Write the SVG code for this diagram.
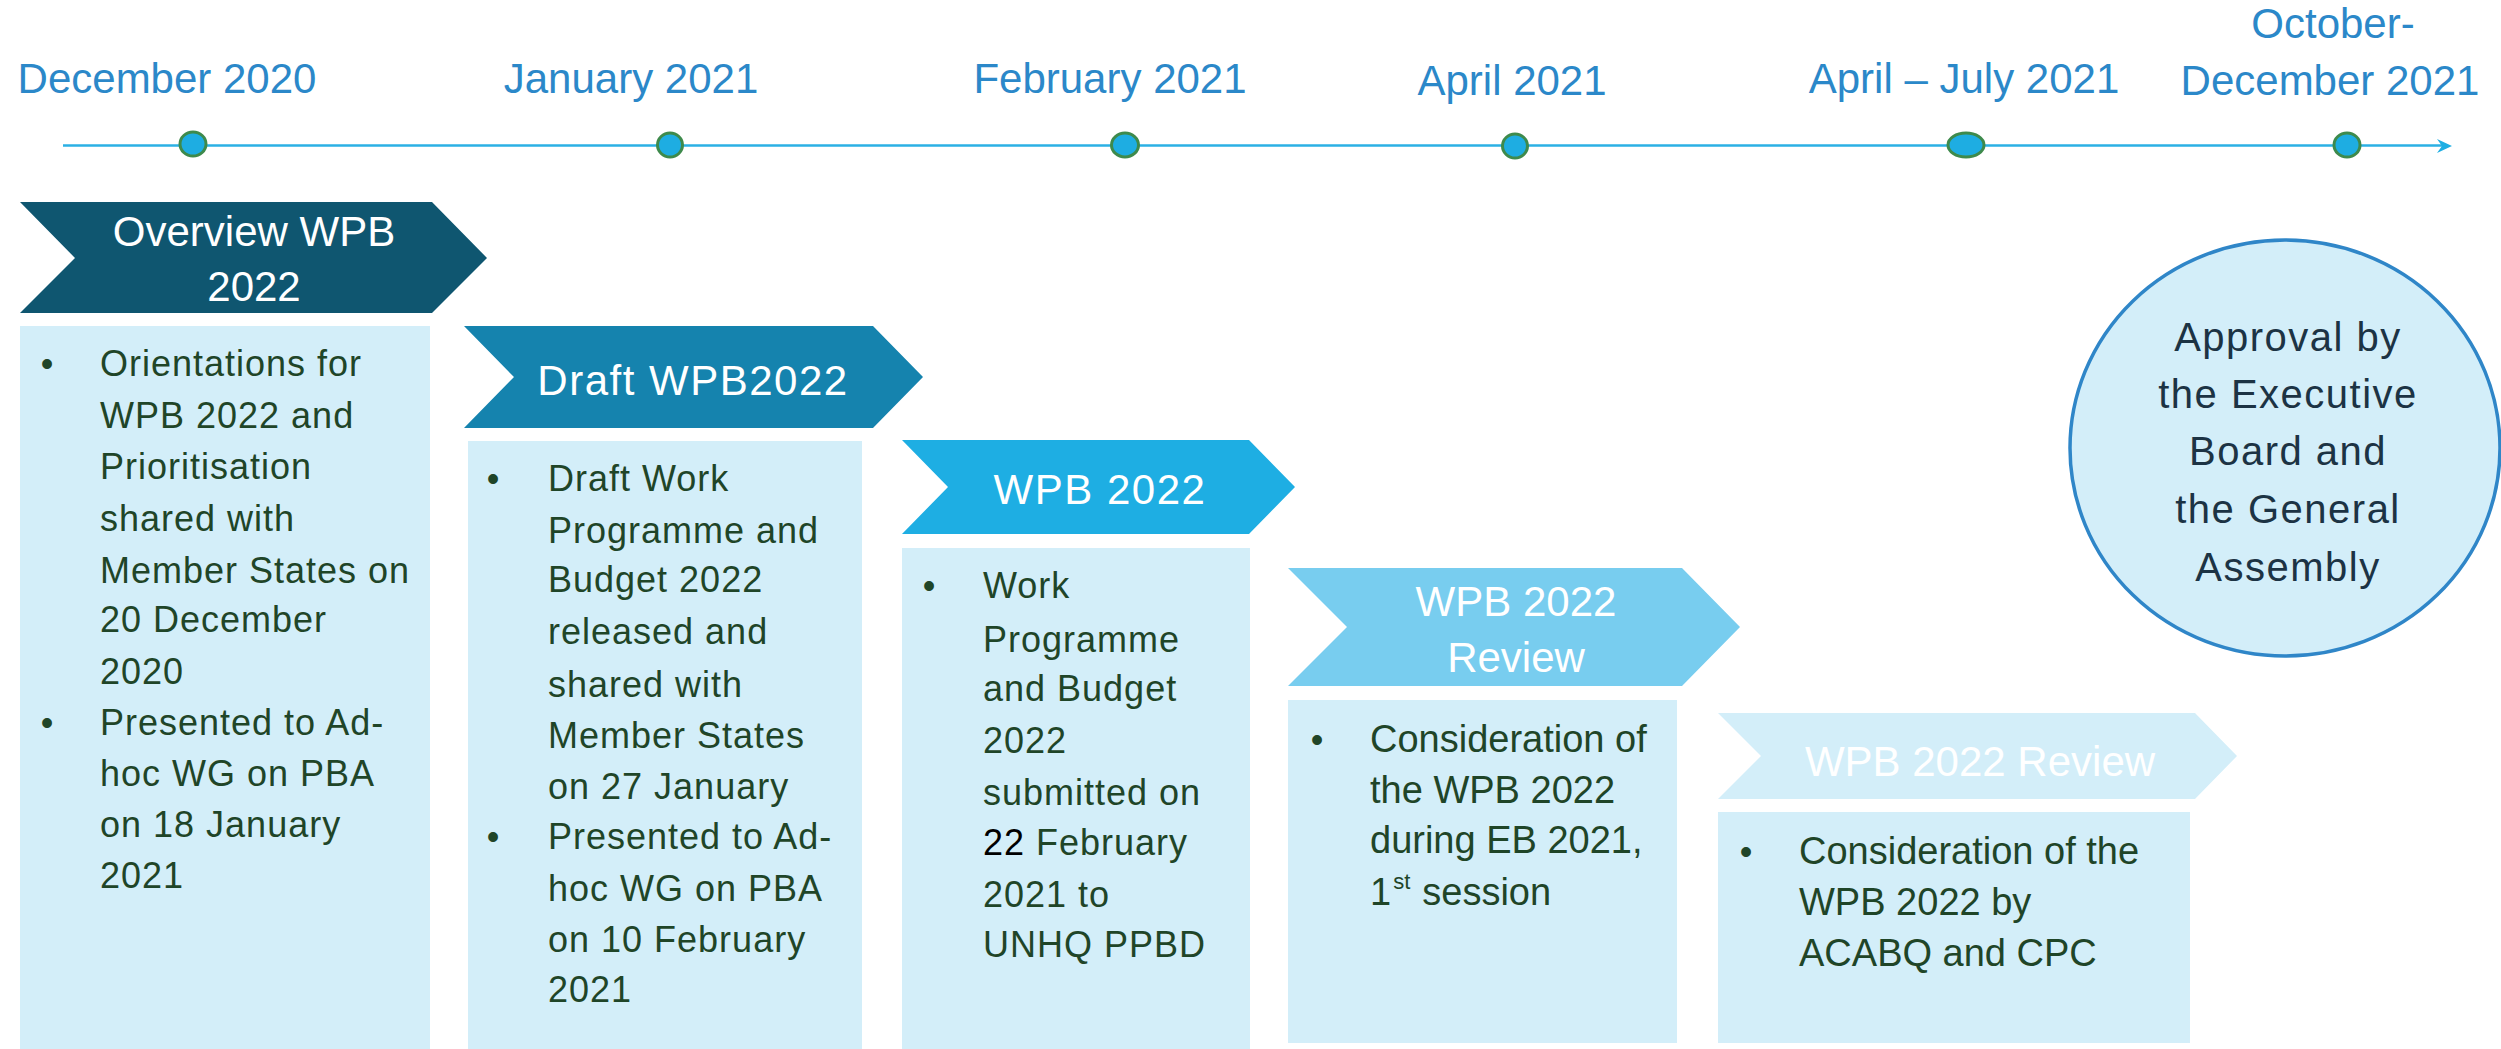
<svg xmlns="http://www.w3.org/2000/svg" width="2501" height="1049" viewBox="0 0 2501 1049">
<style>
.date{font-family:"Liberation Sans",Arial,sans-serif;font-size:42px;fill:#2b88c9;text-anchor:middle}
.ch{font-family:"Liberation Sans",Arial,sans-serif;font-size:42px;fill:#ffffff;text-anchor:middle}
.chs{letter-spacing:1.5px}
.box{fill:#d3eef9}
.body{font-family:"Liberation Sans",Arial,sans-serif;font-size:36px;fill:#1f4528;letter-spacing:1px}
.body2{font-family:"Liberation Sans",Arial,sans-serif;font-size:38px;fill:#1f4528}
.bul{font-family:"Liberation Sans",Arial,sans-serif;font-size:36px;fill:#1f4528;text-anchor:middle}
.dot{fill:#1eade2;stroke:#3e8a4c;stroke-width:3}
.circ{font-family:"Liberation Sans",Arial,sans-serif;font-size:40px;fill:#1c3344;text-anchor:middle;letter-spacing:1.5px}
</style>
<rect width="2501" height="1049" fill="#ffffff"/>
<g id="connectors">
<line x1="63" y1="145.5" x2="2444" y2="145.5" stroke="#2bb0e4" stroke-width="2.5"/>
<polygon points="2437,139 2452,146 2437,153 2442,146" fill="#1eaee3"/>
</g>
<g id="timeline-dates">
<text class="date" x="167" y="93">December 2020</text>
<text class="date" x="631" y="93">January 2021</text>
<text class="date" x="1110" y="93">February 2021</text>
<text class="date" x="1512" y="95">April 2021</text>
<text class="date" x="1964" y="93">April – July 2021</text>
<text class="date" x="2333" y="38">October-</text>
<text class="date" x="2330" y="95">December 2021</text>
</g>
<g id="timeline-markers">
<ellipse class="dot" cx="193" cy="144" rx="13" ry="12"/>
<ellipse class="dot" cx="670" cy="145" rx="12.5" ry="12"/>
<ellipse class="dot" cx="1125" cy="145" rx="13.5" ry="12"/>
<ellipse class="dot" cx="1515" cy="146" rx="12.5" ry="12"/>
<ellipse class="dot" cx="1966" cy="145" rx="18" ry="12"/>
<ellipse class="dot" cx="2347" cy="145" rx="13" ry="12"/>
</g>
<g id="node-overview">
<polygon points="20,202 432,202 487,258 432,313 20,313 75,258" fill="#0f5670"/>
<text class="ch" x="254" y="246">Overview WPB</text>
<text class="ch" x="254" y="301">2022</text>
<rect class="box" x="20" y="326" width="410" height="723"/>
<text class="bul" x="47" y="376">•</text>
<text class="bul" x="47" y="735">•</text>
<text class="body" x="100" y="376">Orientations for</text>
<text class="body" x="100" y="428">WPB 2022 and</text>
<text class="body" x="100" y="479">Prioritisation</text>
<text class="body" x="100" y="531">shared with</text>
<text class="body" x="100" y="583">Member States on</text>
<text class="body" x="100" y="632">20 December</text>
<text class="body" x="100" y="684">2020</text>
<text class="body" x="100" y="735">Presented to Ad-</text>
<text class="body" x="100" y="786">hoc WG on PBA</text>
<text class="body" x="100" y="837">on 18 January</text>
<text class="body" x="100" y="888">2021</text>
</g>
<g id="node-draft">
<polygon points="464,326 873,326 923,377 873,428 464,428 514,377" fill="#1583ae"/>
<text class="ch chs" x="693" y="395">Draft WPB2022</text>
<rect class="box" x="468" y="441" width="394" height="608"/>
<text class="bul" x="493" y="491">•</text>
<text class="bul" x="493" y="849">•</text>
<text class="body" x="548" y="491">Draft Work</text>
<text class="body" x="548" y="543">Programme and</text>
<text class="body" x="548" y="592">Budget 2022</text>
<text class="body" x="548" y="644">released and</text>
<text class="body" x="548" y="697">shared with</text>
<text class="body" x="548" y="748">Member States</text>
<text class="body" x="548" y="799">on 27 January</text>
<text class="body" x="548" y="849">Presented to Ad-</text>
<text class="body" x="548" y="901">hoc WG on PBA</text>
<text class="body" x="548" y="952">on 10 February</text>
<text class="body" x="548" y="1002">2021</text>
</g>
<g id="node-wpb">
<polygon points="902,440 1249,440 1295,487 1249,534 902,534 948,487" fill="#1eaee3"/>
<text class="ch chs" x="1100" y="504">WPB 2022</text>
<rect class="box" x="902" y="548" width="348" height="501"/>
<text class="bul" x="929" y="598">•</text>
<text class="body" x="983" y="598">Work</text>
<text class="body" x="983" y="652">Programme</text>
<text class="body" x="983" y="701">and Budget</text>
<text class="body" x="983" y="753">2022</text>
<text class="body" x="983" y="805">submitted on</text>
<text class="body" x="983" y="855"><tspan fill="#000000">22</tspan> February</text>
<text class="body" x="983" y="907">2021 to</text>
<text class="body" x="983" y="957">UNHQ PPBD</text>
</g>
<g id="node-review">
<polygon points="1288,568 1682,568 1740,627 1682,686 1288,686 1347,627" fill="#78cdef"/>
<text class="ch" x="1516" y="616">WPB 2022</text>
<text class="ch" x="1516" y="672">Review</text>
<rect class="box" x="1288" y="700" width="389" height="343"/>
<text class="bul" x="1317" y="752">•</text>
<text class="body2" x="1370" y="752">Consideration of</text>
<text class="body2" x="1370" y="803">the WPB 2022</text>
<text class="body2" x="1370" y="853">during EB 2021,</text>
<text class="body2" x="1370" y="905">1<tspan font-size="22" dx="2" dy="-16">st</tspan><tspan dx="12" dy="16">session</tspan></text>
</g>
<g id="node-review2">
<polygon points="1718,713 2195,713 2237,756 2195,799 1718,799 1761,756" fill="#d3eef9"/>
<text class="ch" x="1980" y="776">WPB 2022 Review</text>
<rect class="box" x="1718" y="812" width="472" height="231"/>
<text class="bul" x="1746" y="864">•</text>
<text class="body2" x="1799" y="864">Consideration of the</text>
<text class="body2" x="1799" y="915">WPB 2022 by</text>
<text class="body2" x="1799" y="966">ACABQ and CPC</text>
</g>
<g id="node-approval">
<ellipse cx="2285" cy="448" rx="215" ry="208" fill="#d3eef9" stroke="#2f86c8" stroke-width="3.5"/>
<text class="circ" x="2288" y="351">Approval by</text>
<text class="circ" x="2288" y="408">the Executive</text>
<text class="circ" x="2288" y="465">Board and</text>
<text class="circ" x="2288" y="523">the General</text>
<text class="circ" x="2288" y="581">Assembly</text>
</g>
</svg>
